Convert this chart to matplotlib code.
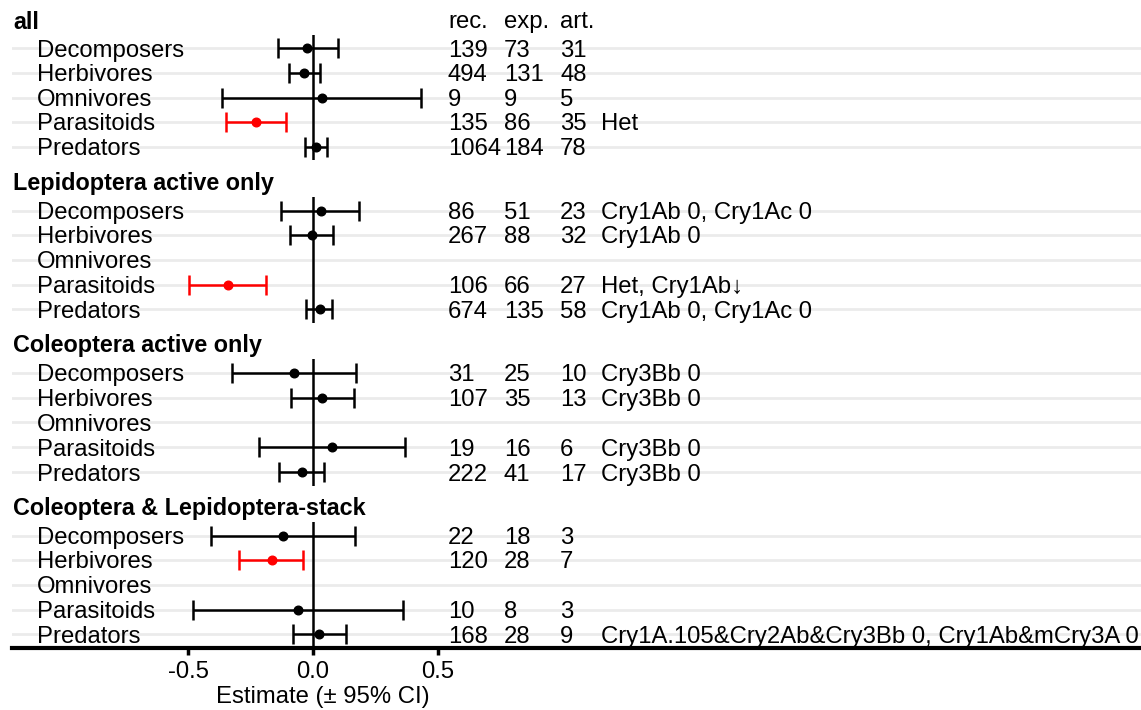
import matplotlib
matplotlib.use('Agg')
import matplotlib.pyplot as plt

plt.rcParams['font.family'] = ['Liberation Sans', 'DejaVu Sans']

# data
groups = ['all', 'Lepidoptera active only', 'Coleoptera active only', 'Coleoptera & Lepidoptera-stack']
guilds = ['Decomposers', 'Herbivores', 'Omnivores', 'Parasitoids', 'Predators']

est = [[-0.024, -0.036, 0.036, -0.230, 0.012],
       [0.031, -0.005, None, -0.341, 0.028],
       [-0.076, 0.037, None, 0.077, -0.043],
       [-0.121, -0.165, None, -0.061, 0.025]]
lo = [[-0.140, -0.096, -0.365, -0.350, -0.032],
      [-0.128, -0.092, None, -0.496, -0.028],
      [-0.323, -0.088, None, -0.215, -0.135],
      [-0.409, -0.295, None, -0.481, -0.079]]
hi = [[0.100, 0.028, 0.432, -0.110, 0.056],
      [0.185, 0.079, None, -0.188, 0.077],
      [0.172, 0.165, None, 0.368, 0.044],
      [0.168, -0.039, None, 0.359, 0.131]]

rec = [['139', '494', '9', '135', '1064'],
       ['86', '267', '', '106', '674'],
       ['31', '107', '', '19', '222'],
       ['22', '120', '', '10', '168']]
exp = [['73', '131', '9', '86', '184'],
       ['51', '88', '', '66', '135'],
       ['25', '35', '', '16', '41'],
       ['18', '28', '', '8', '28']]
art = [['31', '48', '5', '35', '78'],
       ['23', '32', '', '27', '58'],
       ['10', '13', '', '6', '17'],
       ['3', '7', '', '3', '9']]
notes = [['', '', '', 'Het', ''],
         ['Cry1Ab 0, Cry1Ac 0', 'Cry1Ab 0', '', 'Het, Cry1Ab\u2193', 'Cry1Ab 0, Cry1Ac 0'],
         ['Cry3Bb 0', 'Cry3Bb 0', '', 'Cry3Bb 0', 'Cry3Bb 0'],
         ['', '', '', '', 'Cry1A.105&Cry2Ab&Cry3Bb 0, Cry1Ab&mCry3A 0']]

col_heads = ['rec.', 'exp.', 'art.']
xticks = [-0.5, 0.0, 0.5]

W, H = 1141, 710
fig = plt.figure(figsize=(W / 100, H / 100), dpi=100)

tops = [35, 197, 359, 522]
bottoms = [160, 323, 486, 648]
x_left, x_right = 12, 1141
px_per_unit = 249.5
zero_px = 313
xmin = (x_left - zero_px) / px_per_unit
xmax = (x_right - zero_px) / px_per_unit

col_x = [0.541, 0.765, 0.99]
note_x = 1.154
label_x = -1.106
fs = 17.2
fs_head = 16.8

for g in range(len(groups)):
    ax = fig.add_axes([x_left / W, 1 - bottoms[g] / H,
                       (x_right - x_left) / W, (bottoms[g] - tops[g]) / H])
    ax.set_xlim(xmin, xmax)
    ax.set_ylim(5.55, 0.45)
    for s in ['top', 'left', 'right']:
        ax.spines[s].set_visible(False)
    ax.set_yticks([])

    ys = list(range(1, len(guilds) + 1))
    for y in ys:
        ax.axhline(y, color='#ebebeb', lw=2, zorder=0)
    ax.axvline(0, color='black', lw=1.8, zorder=2)

    for i, name in enumerate(guilds):
        y = ys[i]
        ax.text(label_x, y + 0.33, name, fontsize=fs, va='baseline', ha='left', zorder=3)
        for cx, vals in zip(col_x, [rec, exp, art]):
            if vals[g][i]:
                ax.text(cx, y + 0.33, vals[g][i], fontsize=fs, va='baseline', ha='left', zorder=3)
        if notes[g][i]:
            ax.text(note_x, y + 0.33, notes[g][i], fontsize=fs, va='baseline', ha='left', zorder=3)
        if est[g][i] is not None:
            c = 'red' if hi[g][i] < 0 or lo[g][i] > 0 else 'black'
            ax.errorbar(est[g][i], y, xerr=[[est[g][i] - lo[g][i]], [hi[g][i] - est[g][i]]],
                        fmt='o', color=c, ms=6.2, lw=1.8, capsize=7.5, capthick=1.8, zorder=4)

    ax.text(-1.202, -0.08, groups[g], fontsize=fs_head, fontweight='bold', va='center', ha='left',
            clip_on=False)
    if g == 0:
        for cx, h in zip(col_x, col_heads):
            ax.text(cx, -0.08, h, fontsize=fs, va='center', ha='left', clip_on=False)

    if g == len(groups) - 1:
        ax.spines['bottom'].set_linewidth(3)
        ax.set_xticks(xticks)
        ax.set_xticklabels(['-0.5', '0.0', '0.5'], fontsize=fs)
        ax.tick_params(axis='x', length=5, width=2.5, pad=4)
        ax.set_xlabel('Estimate (\u00b1 95% CI)', fontsize=fs)
        ax.xaxis.set_label_coords((323 - x_left) / (x_right - x_left), -0.30)
    else:
        ax.spines['bottom'].set_visible(False)
        ax.set_xticks([])

fig.savefig('out.png', dpi=100)
